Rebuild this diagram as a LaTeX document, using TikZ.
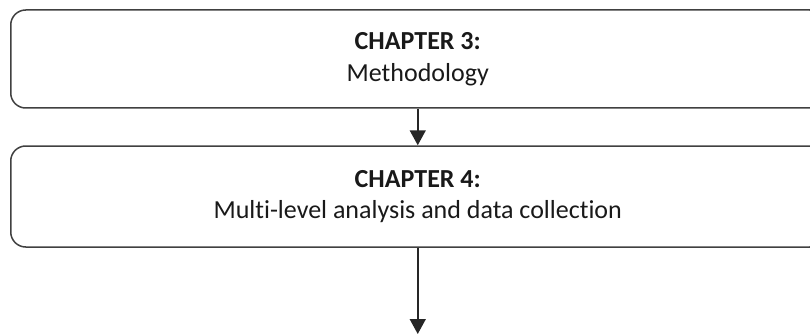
\documentclass[tikz,border=0pt]{standalone}
\usepackage{fontspec}
\setmainfont{Carlito}[Ligatures=CommonOff]
\usetikzlibrary{arrows.meta}
\tikzset{
  chapbox/.style={draw=black!75, line width=1.5pt, rounded corners=15pt,
    minimum width=814pt, minimum height=98pt, align=center, text=black!90,
    font=\fontsize{26}{31.5}\selectfont},
  flow/.style={-{Triangle[width=16pt,length=15pt]}, line width=1.6pt, draw=black!85}
}
\begin{document}
\begin{tikzpicture}[x=1pt,y=1pt]
\useasboundingbox (0,0) rectangle (810,-334);
\node[chapbox] (ch3) at (417.75,-59) {\textbf{CHAPTER 3:}\\Methodology};
\node[chapbox, minimum height=101pt] (ch4) at (417.75,-196.5) {\textbf{CHAPTER 4:}\\Multi-level analysis and data collection};
\coordinate (next) at (417.75,-334);
\draw[flow] (ch3) -- (ch4);
\draw[flow] (ch4) -- (next);
\end{tikzpicture}
\end{document}
